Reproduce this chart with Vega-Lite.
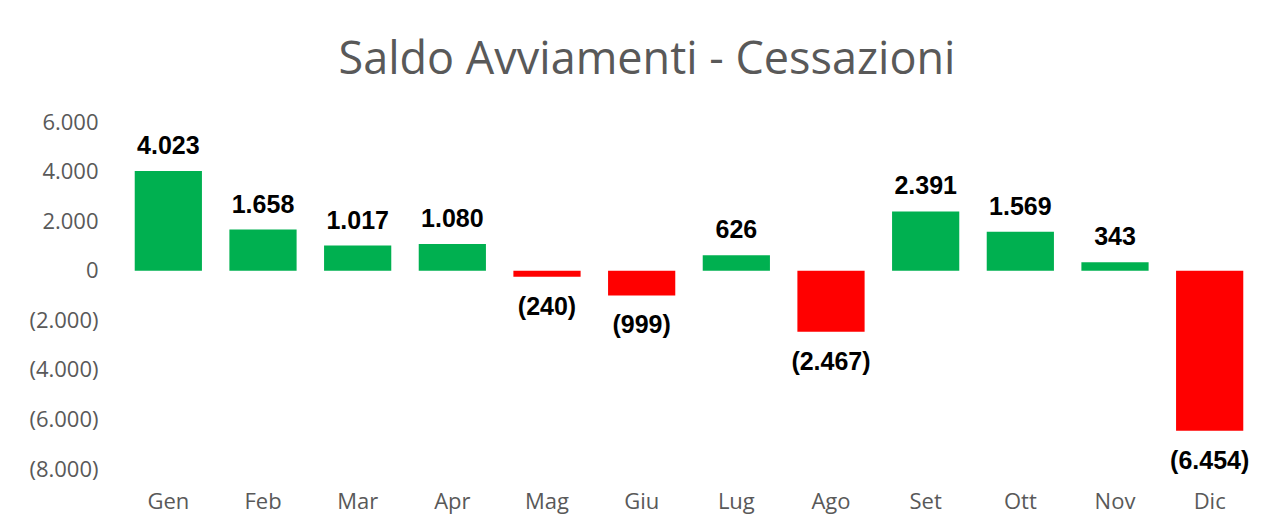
{
  "$schema": "https://vega.github.io/schema/vega-lite/v6.json",
  "autosize": {"type": "none"},
  "width": 1136,
  "height": 347,
  "padding": {"left": 121, "top": 122, "right": 17, "bottom": 57},
  "background": "white",
  "title": {
    "text": "Saldo Avviamenti - Cessazioni",
    "font": "Open Sans",
    "fontSize": 45,
    "fontWeight": "normal",
    "color": "#595959",
    "anchor": "middle",
    "frame": "bounds",
    "offset": 28,
    "dx": 4
  },
  "config": {
    "view": {"stroke": null},
    "locale": {
      "number": {"decimal": ",", "thousands": ".", "grouping": [3], "currency": ["€", ""]}
    }
  },
  "data": {
    "values": [
      {"mese": "Gen", "saldo": 4023},
      {"mese": "Feb", "saldo": 1658},
      {"mese": "Mar", "saldo": 1017},
      {"mese": "Apr", "saldo": 1080},
      {"mese": "Mag", "saldo": -240},
      {"mese": "Giu", "saldo": -999},
      {"mese": "Lug", "saldo": 626},
      {"mese": "Ago", "saldo": -2467},
      {"mese": "Set", "saldo": 2391},
      {"mese": "Ott", "saldo": 1569},
      {"mese": "Nov", "saldo": 343},
      {"mese": "Dic", "saldo": -6454}
    ]
  },
  "encoding": {
    "x": {
      "field": "mese",
      "type": "nominal",
      "sort": null,
      "scale": {"paddingInner": 0.29, "paddingOuter": 0.145},
      "axis": {
        "title": null,
        "labelAngle": 0,
        "domain": false,
        "ticks": false,
        "labelFont": "Open Sans",
        "labelFontSize": 22,
        "labelColor": "#595959",
        "labelPadding": 22
      }
    },
    "y": {
      "field": "saldo",
      "type": "quantitative",
      "scale": {"domain": [-8000, 6000], "nice": false, "zero": true},
      "axis": {
        "title": null,
        "values": [-8000, -6000, -4000, -2000, 0, 2000, 4000, 6000],
        "format": "(,.0f",
        "domain": false,
        "ticks": false,
        "grid": false,
        "labelFont": "Open Sans",
        "labelFontSize": 22,
        "labelColor": "#595959",
        "labelPadding": 23
      }
    }
  },
  "layer": [
    {
      "mark": {"type": "bar"},
      "encoding": {
        "color": {
          "condition": {"test": "datum.saldo < 0", "value": "#FF0000"},
          "value": "#00B050"
        }
      }
    },
    {
      "transform": [{"filter": "datum.saldo >= 0"}],
      "mark": {"type": "text", "baseline": "bottom", "dy": -12, "font": "Liberation Sans", "fontWeight": "bold", "fontSize": 25, "color": "#000000"},
      "encoding": {"text": {"field": "saldo", "type": "quantitative", "format": "(,.0f"}}
    },
    {
      "transform": [{"filter": "datum.saldo < 0"}],
      "mark": {"type": "text", "baseline": "top", "dy": 18, "font": "Liberation Sans", "fontWeight": "bold", "fontSize": 25, "color": "#000000"},
      "encoding": {"text": {"field": "saldo", "type": "quantitative", "format": "(,.0f"}}
    }
  ]
}
